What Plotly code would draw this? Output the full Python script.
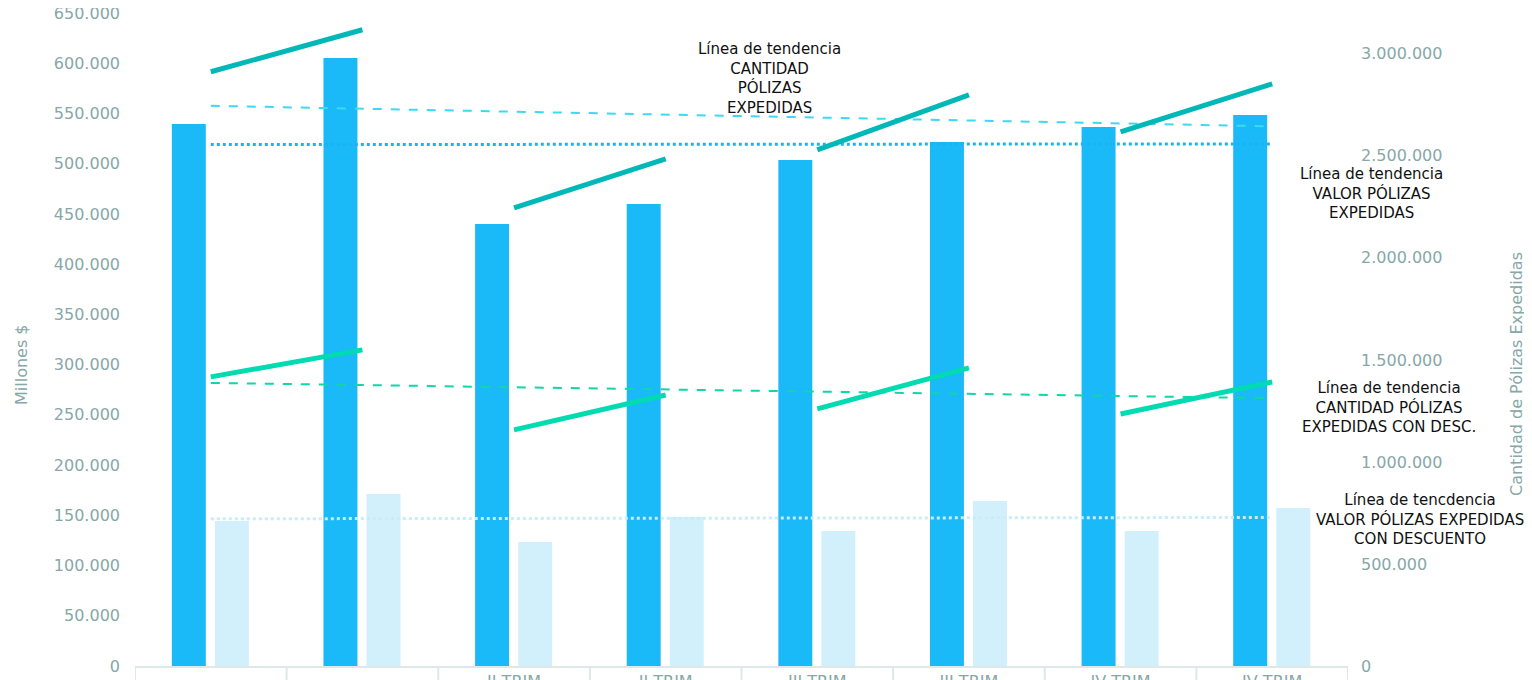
import numpy as np
import plotly.graph_objects as go

# ---------------- data ----------------
categories = ["I TRIM", "I TRIM", "II TRIM", "II TRIM", "III TRIM", "III TRIM", "IV TRIM", "IV TRIM"]
tick_labels = ["<br>I TRIM", "<br>I TRIM", "II TRIM", "II TRIM", "III TRIM", "III TRIM", "IV TRIM", "IV TRIM"]
valor_expedidas = [539500, 605200, 440000, 459900, 503700, 521600, 536500, 548500]       # Millones $
valor_descuento = [144300, 171200, 123400, 148300, 134400, 164200, 134400, 157300]       # Millones $
cantidad_expedidas = [2912000, 3118000, 2245000, 2485000, 2529000, 2799000, 2618000, 2853000]
cantidad_descuento = [1417000, 1549000, 1157000, 1328000, 1260000, 1461000, 1235000, 1392000]
pairs = [(0, 1), (2, 3), (4, 5), (6, 7)]

left_ticks = list(range(0, 650001, 50000))
right_ticks = list(range(0, 3000001, 500000))
left_title = "Millones $"
right_title = "Cantidad de Pólizas Expedidas"


def fmt(v):
    return f"{v:,}".replace(",", ".")


x = np.arange(len(categories))


def trend(vals):
    m, b = np.polyfit(x, vals, 1)
    return [b, m * x[-1] + b]


DARK = "#1ab9f8"
LIGHT = "#d2f0fb"
TEAL = "#00b8b8"
GREEN = "#00dbb2"
AXIS_C = "#86a8a8"
FONT = "DejaVu Sans"

fig = go.Figure()

fig.add_trace(go.Bar(x=x, y=valor_expedidas, marker=dict(color=DARK, line=dict(width=0)),
                     width=0.224, offset=-0.257, name="Valor pólizas expedidas"))
fig.add_trace(go.Bar(x=x, y=valor_descuento, marker=dict(color=LIGHT, line=dict(width=0)),
                     width=0.224, offset=0.027, name="Valor pólizas con descuento"))

# trend lines for bars (left axis)
fig.add_trace(go.Scatter(x=[x[0], x[-1]], y=trend(valor_expedidas), mode="lines",
                         line=dict(color="#1ab3f3", width=3, dash="dot"), showlegend=False))
fig.add_trace(go.Scatter(x=[x[0], x[-1]], y=trend(valor_descuento), mode="lines",
                         line=dict(color="#c8ecf9", width=3, dash="dot"), showlegend=False))

# trend lines for counts (right axis)
fig.add_trace(go.Scatter(x=[x[0], x[-1]], y=trend(cantidad_expedidas), mode="lines", yaxis="y2",
                         line=dict(color="#3dd9f2", width=2, dash="dash"), showlegend=False))
fig.add_trace(go.Scatter(x=[x[0], x[-1]], y=trend(cantidad_descuento), mode="lines", yaxis="y2",
                         line=dict(color="#10d6a8", width=2, dash="dash"), showlegend=False))

# paired count lines
for a, b in pairs:
    fig.add_trace(go.Scatter(x=[x[a], x[b]], y=[cantidad_expedidas[a], cantidad_expedidas[b]],
                             mode="lines", yaxis="y2", line=dict(color=TEAL, width=5),
                             showlegend=False))
    fig.add_trace(go.Scatter(x=[x[a], x[b]], y=[cantidad_descuento[a], cantidad_descuento[b]],
                             mode="lines", yaxis="y2", line=dict(color=GREEN, width=5),
                             showlegend=False))

# category divider marks below axis
for i in range(len(categories) + 1):
    fig.add_shape(type="line", xref="x", yref="paper", x0=i - 0.5, x1=i - 0.5, y0=0, y1=-0.06,
                  line=dict(color="#dfe7e7", width=2))

ann_font = dict(family=FONT, size=15, color="#111111")
annotations = [
    (769, 78, "Línea de tendencia<br>CANTIDAD<br>PÓLIZAS<br>EXPEDIDAS"),
    (1372, 193, "Línea de tendencia<br>VALOR PÓLIZAS<br>EXPEDIDAS"),
    (1389, 407, "Línea de tendencia<br>CANTIDAD PÓLIZAS<br>EXPEDIDAS CON DESC."),
    (1420, 519, "Línea de tencdencia<br>VALOR PÓLIZAS EXPEDIDAS<br>CON DESCUENTO"),
]
# plot area in window pixels (page body has an 8px margin)
OFF = 8
L, R, T, B = 135, 1348, 13, 666
W, H = 1524, 672


def px2paper(px, py):
    return (px - L) / (R - L), (B - py) / (B - T)


for px, py, txt in annotations:
    ax, ay = px2paper(px, py)
    fig.add_annotation(xref="paper", yref="paper", x=ax, y=ay,
                       text=txt, showarrow=False, font=ann_font, align="center",
                       xanchor="center", yanchor="middle")

# axis titles
title_font = dict(family=FONT, size=16, color=AXIS_C)
for px, py, txt in [(21, 365, left_title), (1516, 374, right_title)]:
    ax, ay = px2paper(px, py)
    fig.add_annotation(xref="paper", yref="paper", x=ax, y=ay, text=txt, textangle=-90,
                       showarrow=False, font=title_font, xanchor="center", yanchor="middle")

fig.update_layout(
    width=W, height=H,
    margin=dict(l=L - OFF, r=W - (R - OFF), t=T - OFF, b=H - (B - OFF), autoexpand=False),
    plot_bgcolor="white", paper_bgcolor="white",
    showlegend=False,
    barmode="overlay",
    font=dict(family=FONT, size=16, color=AXIS_C),
    xaxis=dict(range=[-0.5, 7.5], tickvals=list(x), ticktext=tick_labels, automargin=False,
               showgrid=False, zeroline=False, showline=True, linecolor="#dfe7e7", linewidth=2,
               ticks="", tickfont=dict(size=16, color=AXIS_C), ticklabeloverflow="allow"),
    yaxis=dict(range=[0, 650000], tickvals=left_ticks, ticktext=[fmt(v) for v in left_ticks],
               showgrid=False, zeroline=False, showline=False, ticks="", automargin=False,
               ticklabelstandoff=14, ticklabeloverflow="allow"),
    yaxis2=dict(range=[0, 3200000], overlaying="y", side="right", automargin=False,
                tickvals=right_ticks, ticktext=[fmt(v) for v in right_ticks],
                showgrid=False, zeroline=False, showline=False, ticks="",
                ticklabelstandoff=12, ticklabeloverflow="allow"),
)

fig.write_html("out.html")
